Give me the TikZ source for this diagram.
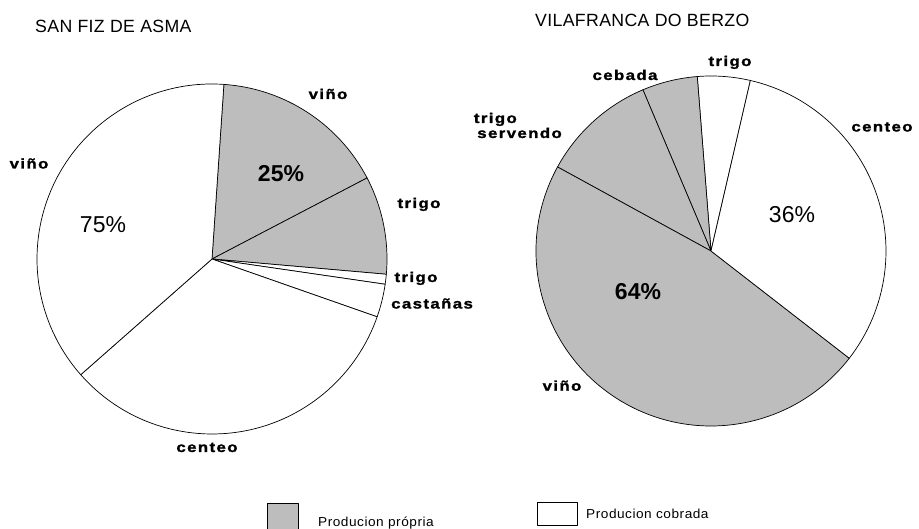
\documentclass[tikz,border=0pt]{standalone}
\usepackage{fontspec}
\setmainfont{Liberation Sans}
\newfontfamily\lblfont{Liberation Sans}[FakeStretch=1.2,LetterSpace=10,BoldFeatures={FakeBold=1.5}]
\newfontfamily\ttlfont{Liberation Sans}[LetterSpace=2]
\newfontfamily\lgdfont{Liberation Sans}[FakeStretch=1.05,LetterSpace=4]
\usetikzlibrary{positioning}
\definecolor{stipple}{gray}{0.74}

\tikzset{
	slice/.style={draw=black, line width=0.7pt, line join=round},
	own/.style={slice, fill=stipple},
	paid/.style={slice, fill=white},
	lab/.style={font=\lblfont\bfseries\fontsize{14}{15}\selectfont, inner sep=0pt, anchor=base},
	pct/.style={font=\fontsize{23}{24}\selectfont, inner sep=0pt, anchor=base},
	bpct/.style={pct, font=\bfseries\fontsize{23}{24}\selectfont},
	ttl/.style={font=\ttlfont\fontsize{17.7}{19}\selectfont, inner sep=0pt, anchor=base west},
	lgd/.style={font=\lgdfont\fontsize{13}{14}\selectfont, inner sep=0pt, anchor=base west}
}

\begin{document}
\begin{tikzpicture}[x=1pt,y=1pt]
	\useasboundingbox (0,0) rectangle (919,529);

	% San Fiz de Asma
	\coordinate (cl) at (212,270);
	\draw[own]  (cl) -- ++(27.6:175pt) arc (27.6:86.1:175pt) -- cycle;
	\draw[own]  (cl) -- ++(-5.0:175pt) arc (-5.0:27.6:175pt) -- cycle;
	\draw[paid] (cl) -- ++(-8.3:175pt) arc (-8.3:-5.0:175pt) -- cycle;
	\draw[paid] (cl) -- ++(-19.3:175pt) arc (-19.3:-8.3:175pt) -- cycle;
	\draw[paid] (cl) -- ++(-138.6:175pt) arc (-138.6:-19.3:175pt) -- cycle;
	\draw[paid] (cl) -- ++(86.1:175pt) arc (86.1:221.4:175pt) -- cycle;

	\node[ttl] (t1) at (35,496) {SAN FIZ DE ASMA};
	\node[lab] (l1) at (328,430) {viño};
	\node[bpct] (l2) at (281,347) {25\%};
	\node[lab] (l3) at (419,321) {trigo};
	\node[lab] (l4) at (416,247) {trigo};
	\node[lab, anchor=base west] (l5) at (391,220.5) {castañas};
	\node[lab] (l6) at (29,360.5) {viño};
	\node[pct] (l7) at (103,296) {75\%};
	\node[lab] (l8) at (207,77) {centeo};

	% Vilafranca do Berzo
	\coordinate (cr) at (711,278);
	\draw[paid] (cr) -- ++(77.0:175pt) arc (77.0:94.5:175pt) -- cycle;
	\draw[own]  (cr) -- ++(94.5:175pt) arc (94.5:112.9:175pt) -- cycle;
	\draw[own]  (cr) -- ++(112.9:175pt) arc (112.9:151.3:175pt) -- cycle;
	\draw[own]  (cr) -- ++(151.3:175pt) arc (151.3:322.2:175pt) -- cycle;
	\draw[paid] (cr) -- ++(-37.8:175pt) arc (-37.8:77.0:175pt) -- cycle;

	\node[ttl] (t2) at (535,502.3) {VILAFRANCA DO BERZO};
	\node[lab] (r1) at (730,463) {trigo};
	\node[lab] (r2) at (625,449) {cebada};
	\node[lab, anchor=base east] (r3) at (517,406) {trigo};
	\node[lab, anchor=base east] (r4) at (562,391) {servendo};
	\node[lab] (r5) at (882,397.5) {centeo};
	\node[pct] (r6) at (792,306.3) {36\%};
	\node[bpct] (r7) at (638,229) {64\%};
	\node[lab] (r8) at (562,138.3) {viño};

	% legend
	\node[own, minimum width=31pt, minimum height=26pt] (k1) at (282.5,13) {};
	\node[lgd] (k2) at (318,2) {Producion própria};
	\node[paid, minimum width=40pt, minimum height=23pt] (k3) at (557,15.5) {};
	\node[lgd] (k4) at (586,10) {Producion cobrada};
\end{tikzpicture}
\end{document}
